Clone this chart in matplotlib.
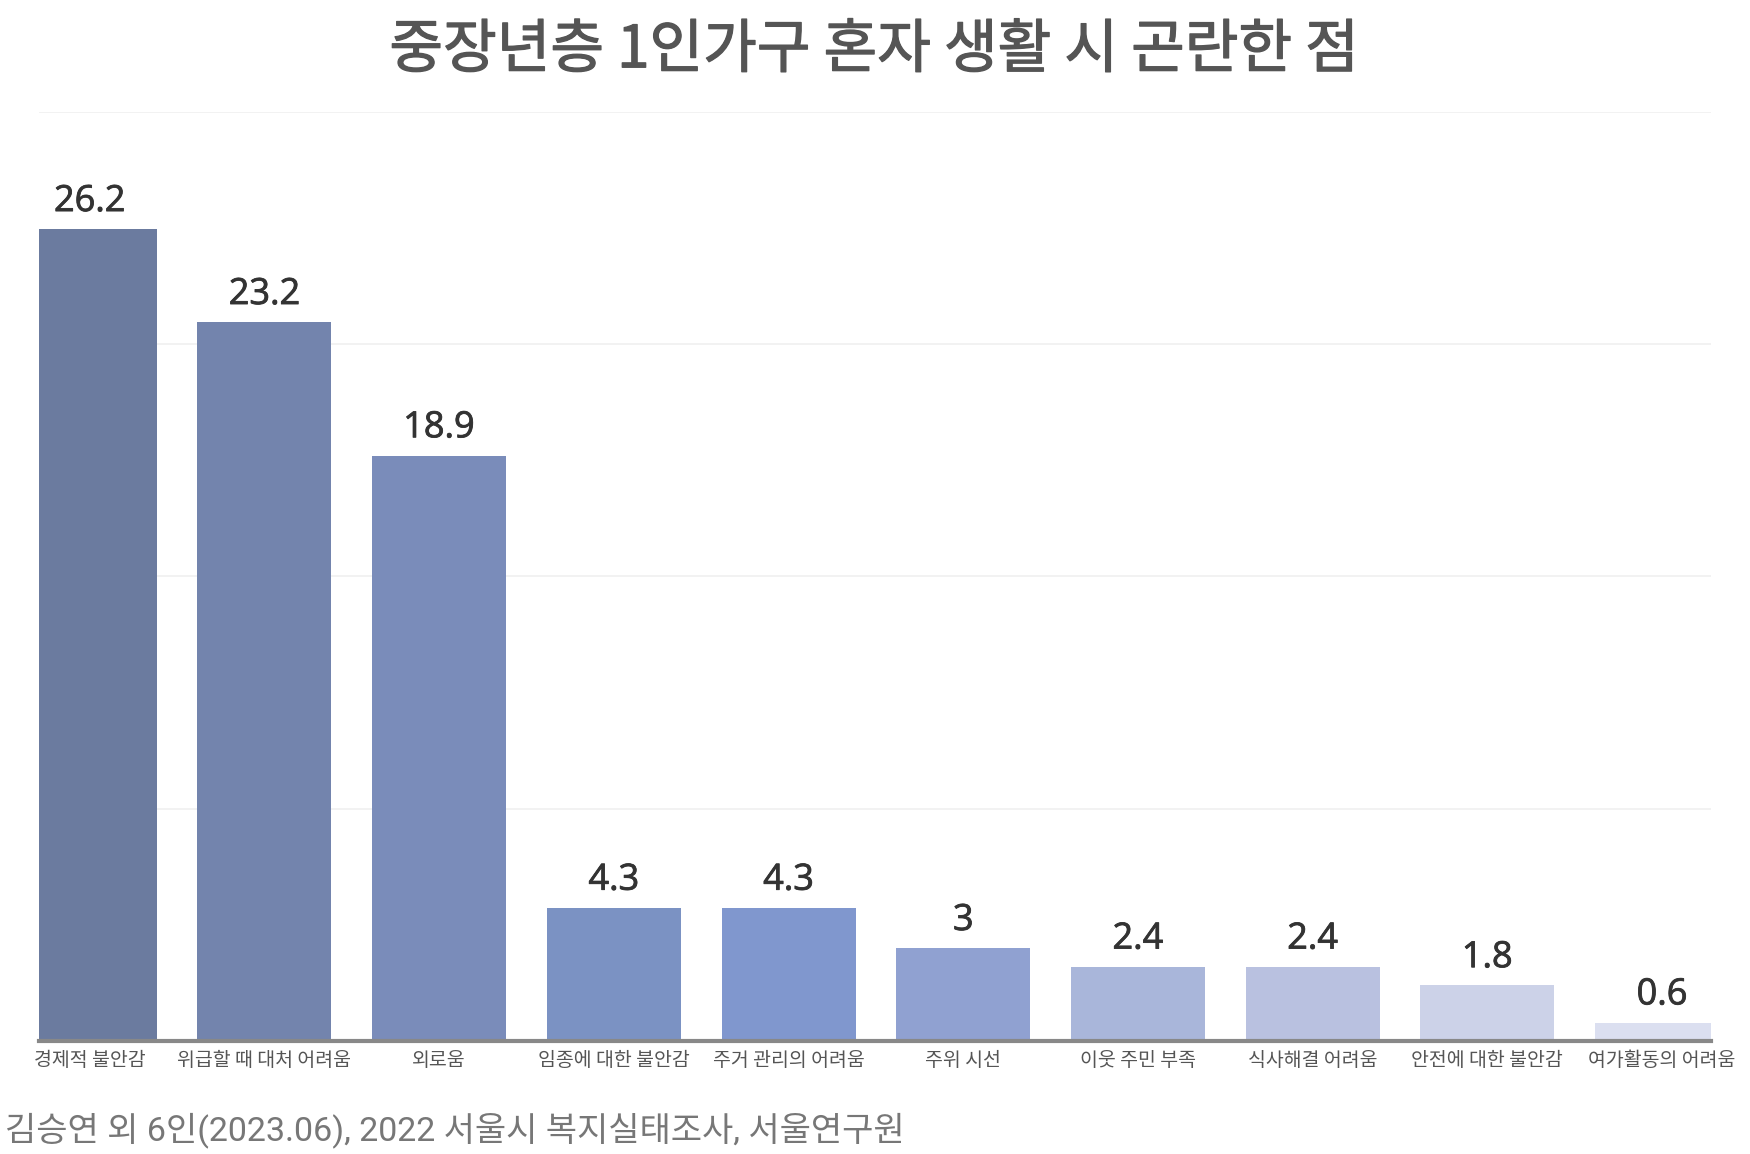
import matplotlib.pyplot as plt
import matplotlib.patheffects as pe
import numpy as np

categories = ["경제적 불안감", "위급할 때 대처 어려움", "외로움", "임종에 대한 불안감",
              "주거 관리의 어려움", "주위 시선", "이웃 주민 부족", "식사해결 어려움",
              "안전에 대한 불안감", "여가활동의 어려움"]
values = [26.2, 23.2, 18.9, 4.3, 4.3, 3, 2.4, 2.4, 1.8, 0.6]
labels = ["26.2", "23.2", "18.9", "4.3", "4.3", "3", "2.4", "2.4", "1.8", "0.6"]
colors = ["#6B7B9F", "#7384AD", "#7A8CBA", "#7B92C3", "#8097CE",
          "#90A1D1", "#A9B6DA", "#B9C1E0", "#CCD2E8", "#DBDFF0"]

title = "중장년층 1인가구 혼자 생활 시 곤란한 점"
source = "김승연 외 6인(2023.06), 2022 서울시 복지실태조사, 서울연구원"

kr = ["Noto Sans CJK KR", "DejaVu Sans"]

fig = plt.figure(figsize=(17.5, 11.54), dpi=100)
ax = fig.add_axes([0.0223, 0.0977, 0.9554, 0.8056])

x = np.arange(len(values))
ax.bar(x, values, width=0.767, color=colors, zorder=2)

# value labels above bars
for xi, v, lab in zip(x, values, labels):
    ax.text(xi, v + 0.3, lab, ha="center", va="bottom", fontsize=26,
            color="#333333", family=["Open Sans", "DejaVu Sans"],
            path_effects=[pe.withStroke(linewidth=0.6, foreground="#333333")])

ax.set_xlim(-0.29, 9.28)
ax.set_ylim(0, 30)
ax.set_yticks([7.5, 15, 22.5, 30])
ax.yaxis.grid(True, color="#f0f0f0", linewidth=1.2, zorder=0)
ax.tick_params(axis="y", left=False, labelleft=False)
ax.set_xticks(x)
ax.set_xticklabels(categories, family=kr, fontsize=14, color="#555555")
ax.tick_params(axis="x", length=0, pad=6)

for s in ["top", "right", "left"]:
    ax.spines[s].set_visible(False)
ax.spines["bottom"].set_color("#888888")
ax.spines["bottom"].set_linewidth(3)
ax.spines["bottom"].set_zorder(3)

fig.text(0.4994, 0.956, title, ha="center", va="center", fontsize=42,
         color="#555555", family=kr,
         path_effects=[pe.withStroke(linewidth=0.9, foreground="#555555")])
fig.text(0.003, 0.021, source, ha="left", va="center", fontsize=24.5,
         color="#777777", family=["Roboto", "Noto Sans CJK KR"])

fig.savefig("out.png", dpi=100, facecolor="white")
